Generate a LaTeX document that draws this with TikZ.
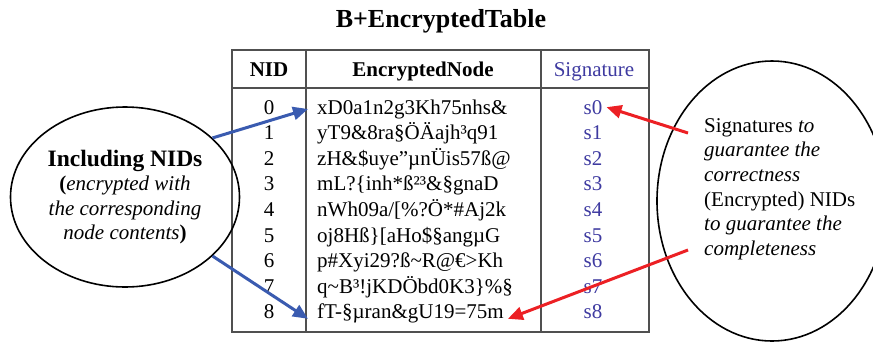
\documentclass[tikz,border=0pt]{standalone}
\usepackage{fontspec}
\setmainfont{Liberation Serif}
\usetikzlibrary{shapes,arrows.meta,positioning,calc}
\usepackage{xcolor}
\definecolor{sigblue}{RGB}{62,58,160}
\definecolor{nidblue}{RGB}{58,91,176}
\definecolor{sigred}{RGB}{236,32,36}
\definecolor{gridgray}{RGB}{80,80,80}

\begin{document}
\begin{tikzpicture}[x=1pt, y=-1pt]
    \tikzstyle{cell} = [inner sep=4pt, font=\fontsize{21}{24.6}\selectfont]
    \tikzstyle{head} = [cell, font=\fontsize{21}{24.6}\selectfont\bfseries]
    \tikzstyle{sig} = [cell, text=sigblue]
    \tikzstyle{grid} = [line width=1.5pt, draw=gridgray]
    \tikzstyle{bubble} = [ellipse, draw, line width=1.6pt, inner sep=0pt]
    \tikzstyle{nidarrow} = [line width=3pt, draw=nidblue, fill=nidblue, -{Triangle[length=15pt,width=13pt]}]
    \tikzstyle{sigarrow} = [line width=3pt, draw=sigred, fill=sigred, -{Triangle[length=15pt,width=13pt]}]

    \useasboundingbox (0,0) rectangle (873,341);

    % Titel
    \node[font=\fontsize{26}{30}\selectfont\bfseries, anchor=base] (title) at (441,27) {B+EncryptedTable};

    % Tabelle
    \draw[grid] (232,50) rectangle (649,332);
    \draw[grid] (306,50) -- (306,332);
    \draw[grid] (541,50) -- (541,332);
    \draw[grid] (232,88) -- (649,88);

    \node[head, anchor=base] (hnid) at (269,76) {NID};
    \node[head, anchor=base] (henc) at (423,76) {EncryptedNode};
    \node[sig, anchor=base] (hsig) at (594,76) {Signature};

    \foreach \i in {0,...,8} {
        \node[cell, anchor=base] (nid\i) at (269, 114+25.6*\i) {\i};
        \node[sig, anchor=base] (sig\i) at (593, 114+25.6*\i) {s\i};
    }

    \node[cell, anchor=base west] (enc0) at (313,114) {xD0a1n2g3Kh75nhs\&};
    \node[cell, anchor=base west] (enc1) at (313,139.6) {yT9\&8ra§ÖÄajh³q91};
    \node[cell, anchor=base west] (enc2) at (313,165.2) {zH\&\$uye”µnÜis57ß@};
    \node[cell, anchor=base west] (enc3) at (313,190.8) {mL?\{inh*ß²³\&§gnaD};
    \node[cell, anchor=base west] (enc4) at (313,216.4) {nWh09a/[\%?Ö*\#Aj2k};
    \node[cell, anchor=base west] (enc5) at (313,242) {oj8Hß\}[aHo\$§angµG};
    \node[cell, anchor=base west] (enc6) at (313,267.6) {p\#Xyi29?ß\textasciitilde R@€>Kh};
    \node[cell, anchor=base west] (enc7) at (313,293.2) {q\textasciitilde B³!jKDÖbd0K3\}\%§};
    \node[cell, anchor=base west] (enc8) at (313,318.8) {fT-§µran\&gU19=75m};

    % Ellipsen
    \node[bubble, cell, inner sep=0pt, minimum width=229pt, minimum height=180pt, align=center] (nidbubble) at (125,197)
        {{\fontsize{23.5}{24.6}\selectfont\bfseries Including NIDs}\\\textbf{(}\textit{encrypted with}\\\textit{the corresponding}\\\textit{node contents}\textbf{)}};
    \node[bubble, minimum width=230pt, minimum height=280pt] (sigbubble) at (772,201) {};
    \node[cell, inner sep=0pt, anchor=west, align=left] (sigtext) at (704,189)
        {Signatures \textit{to}\\\textit{guarantee the}\\\textit{correctness}\\(Encrypted) NIDs\\\textit{to guarantee the}\\\textit{completeness}};

    % Pfeile
    \coordinate (sigfrom) at (688,133);
    \coordinate (nidfrom) at (688,250);
    \draw[nidarrow] (nidbubble.34) -- ([xshift=-5pt]enc0.west);
    \draw[nidarrow] (nidbubble.-34) -- ([xshift=-5pt]enc8.base west);
    \draw[sigarrow] (sigfrom) -- (sig0.east);
    \draw[sigarrow] (nidfrom) -- (enc8.base east);
\end{tikzpicture}
\end{document}
